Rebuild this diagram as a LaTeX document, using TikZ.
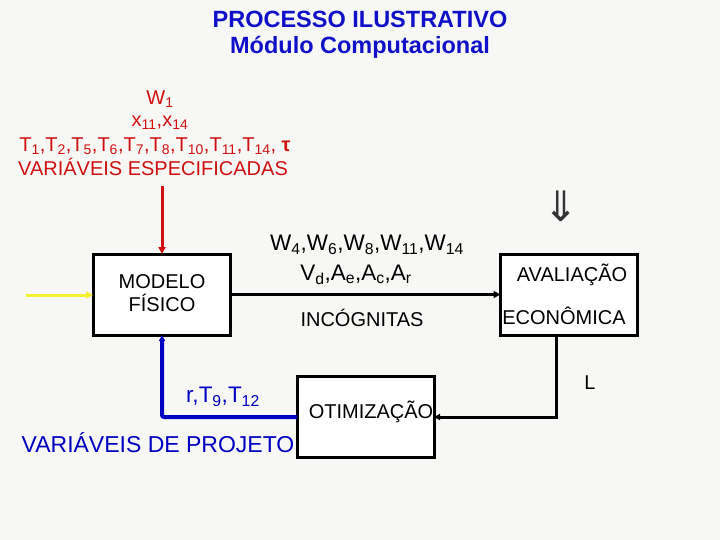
\documentclass[tikz,border=0pt]{standalone}
\usepackage{fontspec}
\setmainfont{Liberation Sans}
\newfontfamily\djv{DejaVu Sans}
\usetikzlibrary{arrows.meta}
\definecolor{bg}{HTML}{F7F7F5}
\definecolor{ttlblue}{HTML}{1010C8}
\definecolor{redtxt}{HTML}{D01010}
\definecolor{projblue}{HTML}{0000C0}
\definecolor{yel}{HTML}{F4F030}
\newcommand{\ssb}[1]{\textsubscript{#1}}
\begin{document}
\begin{tikzpicture}[x=1pt,y=-1pt,
  every node/.style={inner sep=0pt,outer sep=0pt},
  blockbox/.style={draw=black,line width=3pt,fill=white,minimum width=137pt,minimum height=81pt},
  conn/.style={line width=3pt,-{Triangle[length=7pt,width=7pt]}},
  ttl/.style={font=\fontsize{23.5}{26}\selectfont\bfseries,text=ttlblue},
  redlab/.style={font=\fontsize{20}{23}\selectfont,text=redtxt},
  blab/.style={font=\fontsize{20}{23}\selectfont},
  ilab/.style={font=\fontsize{22.5}{25}\selectfont}]
\fill[bg] (0,0) rectangle (720,540);
\useasboundingbox (0,0) rectangle (720,540);
% title
\node[ttl] (t1) at (360,19) {PROCESSO ILUSTRATIVO};
\node[ttl] (t2) at (360,47) {Módulo Computacional};
% red specified variables
\node[redlab] (r1) at (160,99) {W\ssb{1}};
\node[redlab] (r2) at (160,123) {x\ssb{11},x\ssb{14}};
\node[redlab] (r3) at (155,146) {T\ssb{1},T\ssb{2},T\ssb{5},T\ssb{6},T\ssb{7},T\ssb{8},T\ssb{10},T\ssb{11},T\ssb{14}, \textbf{τ}};
\node[redlab] (r4) at (153,167) {VARIÁVEIS ESPECIFICADAS};
% boxes
\node[blockbox] (mod) at (161.5,294.5) {};
\node[blab] (modt1) at (162,282) {MODELO};
\node[blab] (modt2) at (162,303) {FÍSICO};
\node[blockbox] (aval) at (569,294.5) {};
\node[blab] (avt1) at (572,275) {AVALIAÇÃO};
\node[blab] (avt2) at (564,316) {ECONÔMICA};
\node[blockbox] (oti) at (365.5,417) {};
\node[blab] (otit) at (371,412) {OTIMIZAÇÃO};
% coordinates
\coordinate (redtop) at (162,186);
\coordinate (yelstart) at (26,295);
\coordinate (lcorner) at (556,417);
\coordinate (bcorner) at (162,417);
% arrows
\draw[conn,draw=redtxt,fill=redtxt] (redtop) -- (mod.north -| redtop);
\draw[conn,draw=yel,fill=yel] (yelstart) -- (mod.west |- yelstart);
\draw[conn] (mod.east) -- (aval.west);
\draw[conn,-{Triangle[length=6pt,width=6pt]}] (aval.south -| lcorner) -- (lcorner) -- (oti.east |- lcorner);
\draw[line width=4pt,draw=projblue,rounded corners=2pt,-{Triangle[length=6pt,width=6pt]}] (oti.west |- bcorner) -- (bcorner) -- (mod.south -| bcorner);
% labels
\node[ilab] (inc1) at (367,245) {W\ssb{4},W\ssb{6},W\ssb{8},W\ssb{11},W\ssb{14}};
\node[ilab] (inc2) at (356,275) {V\ssb{d},A\ssb{e},A\ssb{c},A\ssb{r}};
\node[blab] (inc3) at (362,318) {INCÓGNITAS};
\node[ilab,text=projblue] (rlab) at (223,397) {r,T\ssb{9},T\ssb{12}};
\node[font=\fontsize{23}{26}\selectfont,text=projblue] (vproj) at (158,443) {VARIÁVEIS DE PROJETO};
\node[blab] (L) at (590,383) {L};
\node[font=\djv\fontsize{42}{42}\selectfont,text=black!80] (dbl) at (561,206) {⇓};
\end{tikzpicture}
\end{document}
